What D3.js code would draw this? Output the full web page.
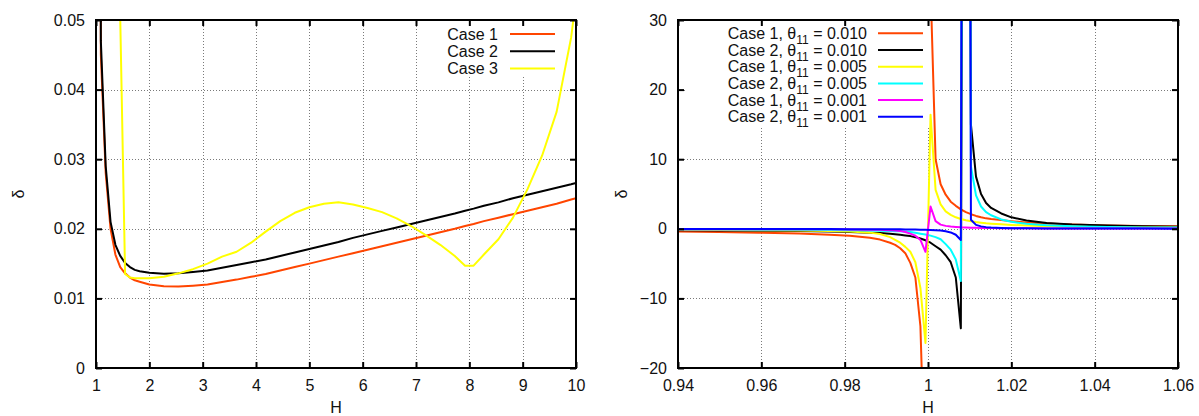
<!DOCTYPE html>
<html>
<head>
<meta charset="utf-8">
<script src="https://cdn.jsdelivr.net/npm/d3@7"></script>
<style>
  body { margin: 0; background: #fff; }
  svg { display: block; }
  text { font-family: "Liberation Sans", Arial, Helvetica, sans-serif; fill: #111; }
</style>
</head>
<body>
<svg id="chart" width="1199" height="416"></svg>
<script>
// ---- Left panel: delta versus H for the three cases ----
const hLeft = [1.0, 1.0909, 1.1818, 1.2727, 1.3636, 1.4545, 1.5455, 1.6364, 1.7273, 1.8182,
  2.0, 2.2727, 2.5455, 2.8182, 3.0909, 3.3636, 3.6364, 3.9091, 4.1818, 4.4545,
  4.7273, 5.0, 5.2727, 5.5455, 5.8182, 6.0909, 6.3636, 6.6364, 6.9091, 7.1818,
  7.4545, 7.7273, 7.92, 8.08, 8.2727, 8.5455, 8.8182, 9.0909, 9.3636, 9.6364,
  9.9091, 10.0];
const case1Left = [0.4, 0.045, 0.028, 0.0200, 0.0163, 0.0145, 0.0136, 0.0130, 0.0126, 0.0124,
  0.0120, 0.01175, 0.0117, 0.01183, 0.0120, 0.01235, 0.0127, 0.0131, 0.0135, 0.0140,
  0.0145, 0.0150, 0.0155, 0.0160, 0.0165, 0.0170, 0.0175, 0.0180, 0.0185, 0.0190,
  0.0195, 0.0200, 0.0204, 0.0207, 0.0211, 0.0216, 0.0221, 0.0226, 0.0231, 0.0236,
  0.0242, 0.0244];
const case2Left = [0.4, 0.047, 0.029, 0.0210, 0.0177, 0.0161, 0.0151, 0.0145, 0.0141, 0.0139,
  0.0137, 0.01355, 0.0136, 0.0138, 0.0140, 0.0144, 0.0148, 0.0152, 0.0156, 0.0161,
  0.0166, 0.0171, 0.0176, 0.0181, 0.0187, 0.0192, 0.0197, 0.0202, 0.0207, 0.0212,
  0.0217, 0.0222, 0.0226, 0.0229, 0.0233, 0.0238, 0.0244, 0.0249, 0.0254, 0.0259,
  0.0264, 0.0266];
const case3Left = [0.9, 0.6, 0.4, 0.25, 0.12, 0.0502, 0.0135, 0.0130, 0.0129, 0.0129,
  0.0129, 0.0131, 0.0136, 0.0142, 0.0150, 0.0160, 0.0167, 0.0180, 0.0196, 0.0211,
  0.0223, 0.0231, 0.0236, 0.0238, 0.0235, 0.0230, 0.0224, 0.0215, 0.0204, 0.0191,
  0.0177, 0.0161, 0.0147, 0.0147, 0.0163, 0.0185, 0.0216, 0.0257, 0.0305, 0.0368,
  0.0475, 0.053];
const xTicksLeft = [1, 2, 3, 4, 5, 6, 7, 8, 9, 10];
const yTicksLeft = [0, 0.01, 0.02, 0.03, 0.04, 0.05];
const namesLeft = ["Case 1", "Case 2", "Case 3"];

// ---- Right panel: delta versus H near H = 1 for three values of theta_11 ----
const hRight = [0.94, 0.9497, 0.95939, 0.96909, 0.97636, 0.98121, 0.98606, 0.98848, 0.99091, 0.99212,
  0.99333, 0.99455, 0.99576, 0.99697, 0.99818, 0.99939, 1.00061, 1.00182, 1.00303, 1.00424,
  1.00545, 1.00667, 1.00788, 1.00909, 1.0103, 1.01152, 1.01273, 1.01394, 1.01515, 1.01758,
  1.02, 1.02364, 1.02848, 1.03455, 1.04303, 1.05152, 1.06];
const case1T010 = [-0.40, -0.45, -0.55, -0.68, -0.85, -1.0, -1.3, -1.55, -2.0, -2.3,
  -2.8, -3.5, -4.9, -7.0, -14, -38, 35, 10.0, 6.4, 4.9,
  3.9, 3.3, 2.8, 2.4, 2.1, 1.85, 1.65, 1.5, 1.4, 1.25,
  1.1, 0.92, 0.75, 0.6, 0.48, 0.4, 0.35];
const case2T010 = [-0.2, -0.23, -0.27, -0.33, -0.4, -0.46, -0.55, -0.62, -0.72, -0.78,
  -0.86, -0.95, -1.05, -1.2, -1.4, -1.65, -2.0, -2.5, -3.0, -3.8,
  -4.8, -7.0, -14.3, 200, 15, 7.5, 5.0, 3.7, 3.0, 2.2,
  1.65, 1.2, 0.85, 0.62, 0.46, 0.37, 0.3];
const case1T005 = [-0.15, -0.17, -0.2, -0.25, -0.32, -0.4, -0.55, -0.75, -1.2, -1.6,
  -2.0, -2.6, -3.3, -4.8, -8.5, -16.4, 16.4, 5.6, 3.5, 2.5,
  2.0, 1.65, 1.4, 1.22, 1.08, 0.97, 0.88, 0.8, 0.74, 0.64,
  0.56, 0.47, 0.38, 0.3, 0.24, 0.2, 0.17];
const case2T005 = [-0.1, -0.11, -0.12, -0.14, -0.17, -0.2, -0.24, -0.27, -0.31, -0.34,
  -0.37, -0.41, -0.46, -0.58, -0.7, -0.82, -0.98, -1.2, -1.5, -2.2,
  -3.0, -4.4, -7.5, 250, 9.0, 4.8, 3.2, 2.4, 1.95, 1.35,
  1.0, 0.72, 0.5, 0.36, 0.26, 0.2, 0.17];
const case1T001 = [-0.05, -0.05, -0.06, -0.07, -0.08, -0.1, -0.12, -0.14, -0.2, -0.25,
  -0.3, -0.45, -0.7, -1.0, -1.6, -3.3, 3.2, 1.1, 0.6, 0.42,
  0.33, 0.27, 0.22, 0.19, 0.16, 0.14, 0.13, 0.12, 0.11, 0.09,
  0.08, 0.07, 0.06, 0.05, 0.04, 0.035, 0.03];
const case2T001 = [-0.03, -0.03, -0.03, -0.04, -0.04, -0.05, -0.06, -0.06, -0.07, -0.08,
  -0.08, -0.09, -0.1, -0.11, -0.12, -0.14, -0.16, -0.2, -0.26, -0.36,
  -0.52, -0.85, -1.6, 300, 1.3, 0.57, 0.35, 0.24, 0.18, 0.12,
  0.09, 0.07, 0.05, 0.04, 0.03, 0.03, 0.02];
const xTicksRight = [0.94, 0.96, 0.98, 1.0, 1.02, 1.04, 1.06];
const yTicksRight = [-20, -10, 0, 10, 20, 30];
const namesRight = [["Case 1, θ", "11", " = 0.010"], ["Case 2, θ", "11", " = 0.010"],
  ["Case 1, θ", "11", " = 0.005"], ["Case 2, θ", "11", " = 0.005"],
  ["Case 1, θ", "11", " = 0.001"], ["Case 2, θ", "11", " = 0.001"]];

const ORANGE = "#ff4500", BLACK = "#000000", YELLOW = "#ffff00",
      CYAN = "#00ffff", MAGENTA = "#ff00ff", BLUE = "#0000ff";

const svg = d3.select("#chart");

// Split a sampled curve wherever two neighbouring samples are both outside
// the y range, so such segments are not drawn (the rest is clipped).
function runs(xs, ys, yDom) {
  const [lo, hi] = yDom;
  const out = v => v < lo || v > hi;
  const res = [];
  let cur = [];
  for (let i = 0; i < xs.length; i++) {
    if (i > 0 && out(ys[i]) && out(ys[i - 1])) {
      if (cur.length > 1) res.push(cur);
      cur = [];
    }
    cur.push([xs[i], ys[i]]);
  }
  if (cur.length > 1) res.push(cur);
  return res;
}

function panel(cfg) {
  const { id, box, xDomain, yDomain, xTicks, yTicks, xFmt, yFmt, xs, series, legend, ylabelX } = cfg;
  const x = d3.scaleLinear().domain(xDomain).range([box.x0, box.x1]);
  const y = d3.scaleLinear().domain(yDomain).range([box.y1, box.y0]);
  const g = svg.append("g");

  g.append("clipPath").attr("id", id)
    .append("rect")
    .attr("x", box.x0).attr("y", box.y0)
    .attr("width", box.x1 - box.x0).attr("height", box.y1 - box.y0);

  // dotted grid
  const grid = g.append("g").attr("stroke", "#7a7a7a").attr("stroke-width", 1)
    .attr("stroke-dasharray", "1,2");
  grid.selectAll("line.gx").data(xTicks).join("line").attr("class", "gx")
    .attr("x1", d => Math.round(x(d)) + 0.5).attr("x2", d => Math.round(x(d)) + 0.5)
    .attr("y1", box.y0).attr("y2", box.y1);
  grid.selectAll("line.gy").data(yTicks).join("line").attr("class", "gy")
    .attr("y1", d => Math.round(y(d)) + 0.5).attr("y2", d => Math.round(y(d)) + 0.5)
    .attr("x1", box.x0).attr("x2", box.x1);

  // key background hides the grid beneath it
  g.append("rect").attr("x", legend.bg[0]).attr("y", legend.bg[1])
    .attr("width", legend.bg[2]).attr("height", legend.bg[3]).attr("fill", "#fff");

  // curves
  const line = d3.line().x(d => x(d[0])).y(d => y(d[1]));
  const curves = g.append("g").attr("clip-path", `url(#${id})`)
    .attr("fill", "none").attr("stroke-width", 2)
    .attr("stroke-linejoin", "round").attr("stroke-linecap", "butt");
  series.forEach(s => {
    runs(xs, s.values, yDomain).forEach(r => {
      curves.append("path").attr("d", line(r)).attr("stroke", s.color);
    });
  });

  // axes with inward ticks on all four sides
  const styleAxis = sel => {
    sel.select(".domain").remove();
    sel.selectAll(".tick line").attr("stroke", "#000").attr("stroke-width", 2);
    sel.selectAll(".tick text").attr("font-size", 16).attr("fill", "#111")
      .attr("font-family", "Liberation Sans, Arial, sans-serif");
  };
  g.append("g").attr("transform", `translate(0,${box.y1})`)
    .call(d3.axisBottom(x).tickValues(xTicks).tickFormat(xFmt).tickSize(-6).tickPadding(12))
    .call(styleAxis);
  g.append("g").attr("transform", `translate(0,${box.y0})`)
    .call(d3.axisTop(x).tickValues(xTicks).tickFormat("").tickSize(-6))
    .call(styleAxis);
  g.append("g").attr("transform", `translate(${box.x0},0)`)
    .call(d3.axisLeft(y).tickValues(yTicks).tickFormat(yFmt).tickSize(-6).tickPadding(11))
    .call(styleAxis);
  g.append("g").attr("transform", `translate(${box.x1},0)`)
    .call(d3.axisRight(y).tickValues(yTicks).tickFormat("").tickSize(-6))
    .call(styleAxis);

  // frame
  g.append("rect").attr("x", box.x0).attr("y", box.y0)
    .attr("width", box.x1 - box.x0).attr("height", box.y1 - box.y0)
    .attr("fill", "none").attr("stroke", "#000").attr("stroke-width", 2);

  // axis titles
  g.append("text").attr("x", (box.x0 + box.x1) / 2).attr("y", 413)
    .attr("text-anchor", "middle").attr("font-size", 16).text("H");
  g.append("text").attr("transform", `translate(${ylabelX},${(box.y0 + box.y1) / 2}) rotate(-90)`)
    .attr("text-anchor", "middle").attr("dy", "0.35em").attr("font-size", 16).text("δ");

  // key
  const key = g.append("g");
  series.forEach((s, i) => {
    const cy = legend.top + i * legend.step;
    const t = key.append("text").attr("x", legend.textRight).attr("y", cy + 5.5)
      .attr("text-anchor", "end").attr("font-size", 16);
    if (Array.isArray(s.name)) {
      t.append("tspan").text(s.name[0]);
      t.append("tspan").attr("dy", 5).attr("font-size", 12).text(s.name[1]);
      t.append("tspan").attr("dy", -5).text(s.name[2]);
    } else {
      t.text(s.name);
    }
    key.append("line").attr("x1", legend.lineX[0]).attr("x2", legend.lineX[1])
      .attr("y1", cy).attr("y2", cy).attr("stroke", s.color).attr("stroke-width", 2);
  });
}

panel({
  id: "clipLeft",
  box: { x0: 96, x1: 576, y0: 20, y1: 368 },
  xDomain: [1, 10], yDomain: [0, 0.05],
  xTicks: xTicksLeft, yTicks: yTicksLeft,
  xFmt: d3.format("d"), yFmt: d => d === 0 ? "0" : d3.format(".2f")(d),
  xs: hLeft,
  series: [
    { name: namesLeft[0], values: case1Left, color: ORANGE },
    { name: namesLeft[1], values: case2Left, color: BLACK },
    { name: namesLeft[2], values: case3Left, color: YELLOW }
  ],
  legend: { top: 34, step: 17.2, textRight: 498, lineX: [510, 555], bg: [440, 21, 135, 56] },
  ylabelX: 18
});

panel({
  id: "clipRight",
  box: { x0: 678, x1: 1178, y0: 20, y1: 368 },
  xDomain: [0.94, 1.06], yDomain: [-20, 30],
  xTicks: xTicksRight, yTicks: yTicksRight,
  xFmt: d => d === 1 ? "1" : d3.format(".2f")(d), yFmt: d3.format("d"),
  xs: hRight,
  series: [
    { name: namesRight[0], values: case1T010, color: ORANGE },
    { name: namesRight[1], values: case2T010, color: BLACK },
    { name: namesRight[2], values: case1T005, color: YELLOW },
    { name: namesRight[3], values: case2T005, color: CYAN },
    { name: namesRight[4], values: case1T001, color: MAGENTA },
    { name: namesRight[5], values: case2T001, color: BLUE }
  ],
  legend: { top: 33.3, step: 16.7, textRight: 867, lineX: [878, 923], bg: [686, 21, 246, 106] },
  ylabelX: 621
});
</script>
</body>
</html>
